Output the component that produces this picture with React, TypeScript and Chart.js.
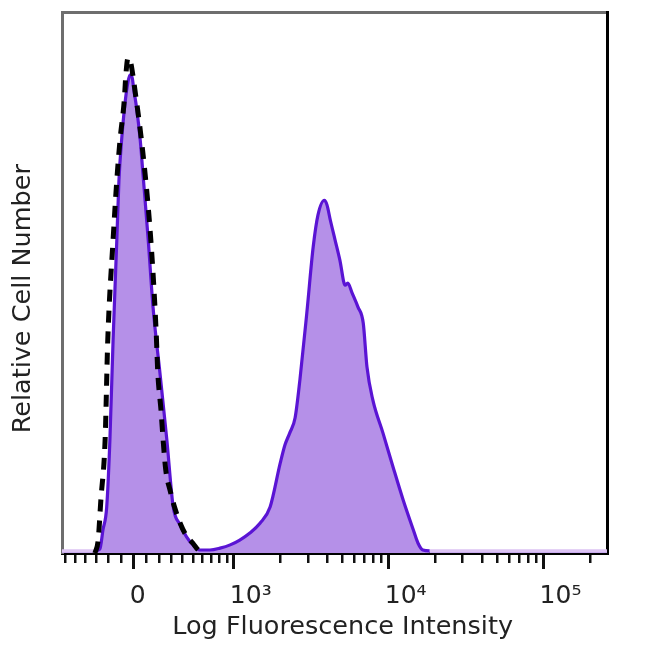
import React, { useEffect, useRef } from 'react';
import { Chart, registerables } from 'chart.js';

Chart.register(...registerables);

// Stained sample histogram (display channel, relative count)
const SAMPLE_CHANNEL = [0, 62, 71, 77, 84, 90, 96, 103, 107, 112, 118, 124, 128, 132, 135, 140, 147, 152, 162, 171, 184, 197, 209, 222, 234, 246, 259, 278, 297, 316, 334, 353, 372, 391, 410, 419, 428, 438, 447, 460, 472, 481, 493, 498, 504, 513, 522, 532, 537, 545, 556, 566, 573, 584, 603, 622, 641, 660, 669, 678, 691, 1024];
const SAMPLE_COUNT = [0.4, 0.4, 0.7, 4.3, 8.5, 20.9, 39.4, 57.9, 68.9, 76.3, 82.8, 87.1, 88.4, 87.8, 85.6, 82.4, 76.3, 70.2, 57.9, 45.5, 33.3, 20.9, 8.5, 5.2, 3.0, 1.5, 0.55, 0.55, 0.9, 1.5, 2.4, 3.7, 5.5, 8.5, 16.6, 20.0, 22.2, 25.0, 32.0, 44.4, 56.6, 62.5, 65.2, 64.3, 61.6, 57.9, 54.2, 49.5, 49.9, 48.1, 45.5, 42.5, 34.4, 28.3, 22.2, 15.9, 9.8, 4.3, 1.8, 0.55, 0.4, 0.4];

// Isotype control histogram
const CONTROL_CHANNEL = [62, 68, 73, 81, 86, 96, 103, 109, 117, 120, 124, 128, 133, 137, 147, 156, 164, 171, 177, 180, 186, 190, 195, 203, 212, 222, 233, 246, 256, 265];
const CONTROL_COUNT = [0, 2.4, 9.8, 20.9, 39.4, 57.9, 68.9, 76.3, 83.7, 88.4, 91.5, 91.1, 88.4, 85.6, 78.2, 70.2, 61.6, 51.8, 40.7, 33.3, 26.4, 20.9, 15.3, 11.6, 8.3, 5.5, 3.3, 1.8, 0.55, 0];

// Axis ticks (fluorescence intensity values)
const MAJOR_TICK_VALUES = [0, 1000, 10000, 100000];
const MAJOR_TICK_LABELS = ['0', '10³', '10⁴', '10⁵'];
const MINOR_TICK_VALUES = [-600, -500, -400, -300, -200, -100, 100, 200, 300, 400, 500, 600, 700, 800, 900, 2000, 3000, 4000, 5000, 6000, 7000, 8000, 9000, 20000, 30000, 40000, 50000, 60000, 70000, 80000, 90000, 200000];

const X_TITLE = 'Log Fluorescence Intensity';
const Y_TITLE = 'Relative Cell Number';

// biexponential display transform: intensity -> channel
const CH_MAX = 1024;
const ZERO_CH = 135;
const LIN_A = 148;
const LIN_C = 610;
const DECADE_CH = 291;
function toChannel(v: number): number {
  const s = Math.sign(v);
  const a = Math.abs(v);
  if (a < 1000) return ZERO_CH + s * LIN_A * Math.asinh(a / LIN_C);
  return ZERO_CH + s * (LIN_A * Math.asinh(1000 / LIN_C) + DECADE_CH * Math.log10(a / 1000));
}

const FONT = 'DejaVu Sans';

export default function App() {
  const ref = useRef<HTMLCanvasElement>(null);
  useEffect(() => {
    document.body.style.margin = '0';
    const canvas = ref.current!;
    const chart = new Chart(canvas, {
      type: 'line',
      data: {
        datasets: [
          {
            label: 'Control',
            data: CONTROL_CHANNEL.map((x, i) => ({ x, y: CONTROL_COUNT[i] })),
            borderColor: '#000000',
            borderWidth: 5,
            borderDash: [12, 9],
            borderCapStyle: 'butt',
            pointRadius: 0,
            fill: false,
            cubicInterpolationMode: 'monotone',
            order: 0,
          },
          {
            label: 'Sample',
            data: SAMPLE_CHANNEL.map((x, i) => ({ x, y: SAMPLE_COUNT[i] })),
            borderColor: '#5a14d4',
            backgroundColor: '#b590e8',
            borderWidth: 3.2,
            pointRadius: 0,
            fill: 'origin',
            cubicInterpolationMode: 'monotone',
            order: 1,
            segment: {
              borderColor: (c: any) =>
                c.p0.parsed.y < 0.45 && c.p1.parsed.y < 0.45 ? '#dcc3f3' : undefined,
            },
          },
        ],
      },
      options: {
        animation: false,
        responsive: false,
        layout: { padding: { top: 12, right: 43, left: 0, bottom: 0 } },
        plugins: { legend: { display: false }, tooltip: { enabled: false } },
        scales: {
          xMinor: {
            type: 'linear',
            position: 'bottom',
            weight: 0,
            min: 0,
            max: CH_MAX,
            afterBuildTicks: (s: any) => {
              s.ticks = MINOR_TICK_VALUES.map((v) => ({ value: toChannel(v) }));
            },
            ticks: { display: false, autoSkip: false },
            grid: { drawOnChartArea: false, color: '#111', lineWidth: 2.5, tickLength: 10 },
            border: { display: false },
            afterFit: (s: any) => {
              s.height = 0;
            },
          },
          x: {
            type: 'linear',
            position: 'bottom',
            weight: 1,
            min: 0,
            max: CH_MAX,
            afterBuildTicks: (s: any) => {
              s.ticks = MAJOR_TICK_VALUES.map((v) => ({ value: toChannel(v) }));
            },
            ticks: {
              autoSkip: false,
              maxRotation: 0,
              align: 'start',
              labelOffset: -4,
              padding: 12,
              color: '#222',
              font: { family: FONT, size: 25 },
              callback: (_v: any, i: number) => MAJOR_TICK_LABELS[i],
            },
            grid: { drawOnChartArea: false, color: '#111', lineWidth: 3, tickLength: 16 },
            border: { display: true, color: '#000', width: 3 },
            title: {
              display: true,
              text: '  ' + X_TITLE,
              color: '#222',
              font: { family: FONT, size: 25.5 },
              padding: { top: 0, bottom: 7 },
            },
            afterFit: (s: any) => {
              s.height = 97;
            },
          },
          xTop: {
            type: 'linear',
            position: 'top',
            min: 0,
            max: CH_MAX,
            ticks: { display: false },
            grid: { display: false },
            border: { display: true, color: '#6e6e6e', width: 3 },
            afterFit: (s: any) => {
              s.height = 0;
            },
          },
          y: {
            type: 'linear',
            position: 'left',
            min: 0,
            max: 100,
            ticks: { display: false },
            grid: { display: false },
            border: { display: true, color: '#6e6e6e', width: 3 },
            title: {
              display: true,
              text: Y_TITLE + '    ',
              color: '#222',
              font: { family: FONT, size: 25.5 },
              padding: { top: 8, bottom: 0 },
            },
            afterFit: (s: any) => {
              s.width = 62;
            },
          },
          yRight: {
            type: 'linear',
            position: 'right',
            min: 0,
            max: 100,
            ticks: { display: false },
            grid: { display: false },
            border: { display: true, color: '#000', width: 3 },
            afterFit: (s: any) => {
              s.width = 0;
            },
          },
        },
      } as any,
    });
    return () => chart.destroy();
  }, []);
  return (
    <div style={{ width: 650, height: 650, background: '#fff' }}>
      <canvas ref={ref} width={650} height={650} style={{ display: 'block' }} />
    </div>
  );
}
